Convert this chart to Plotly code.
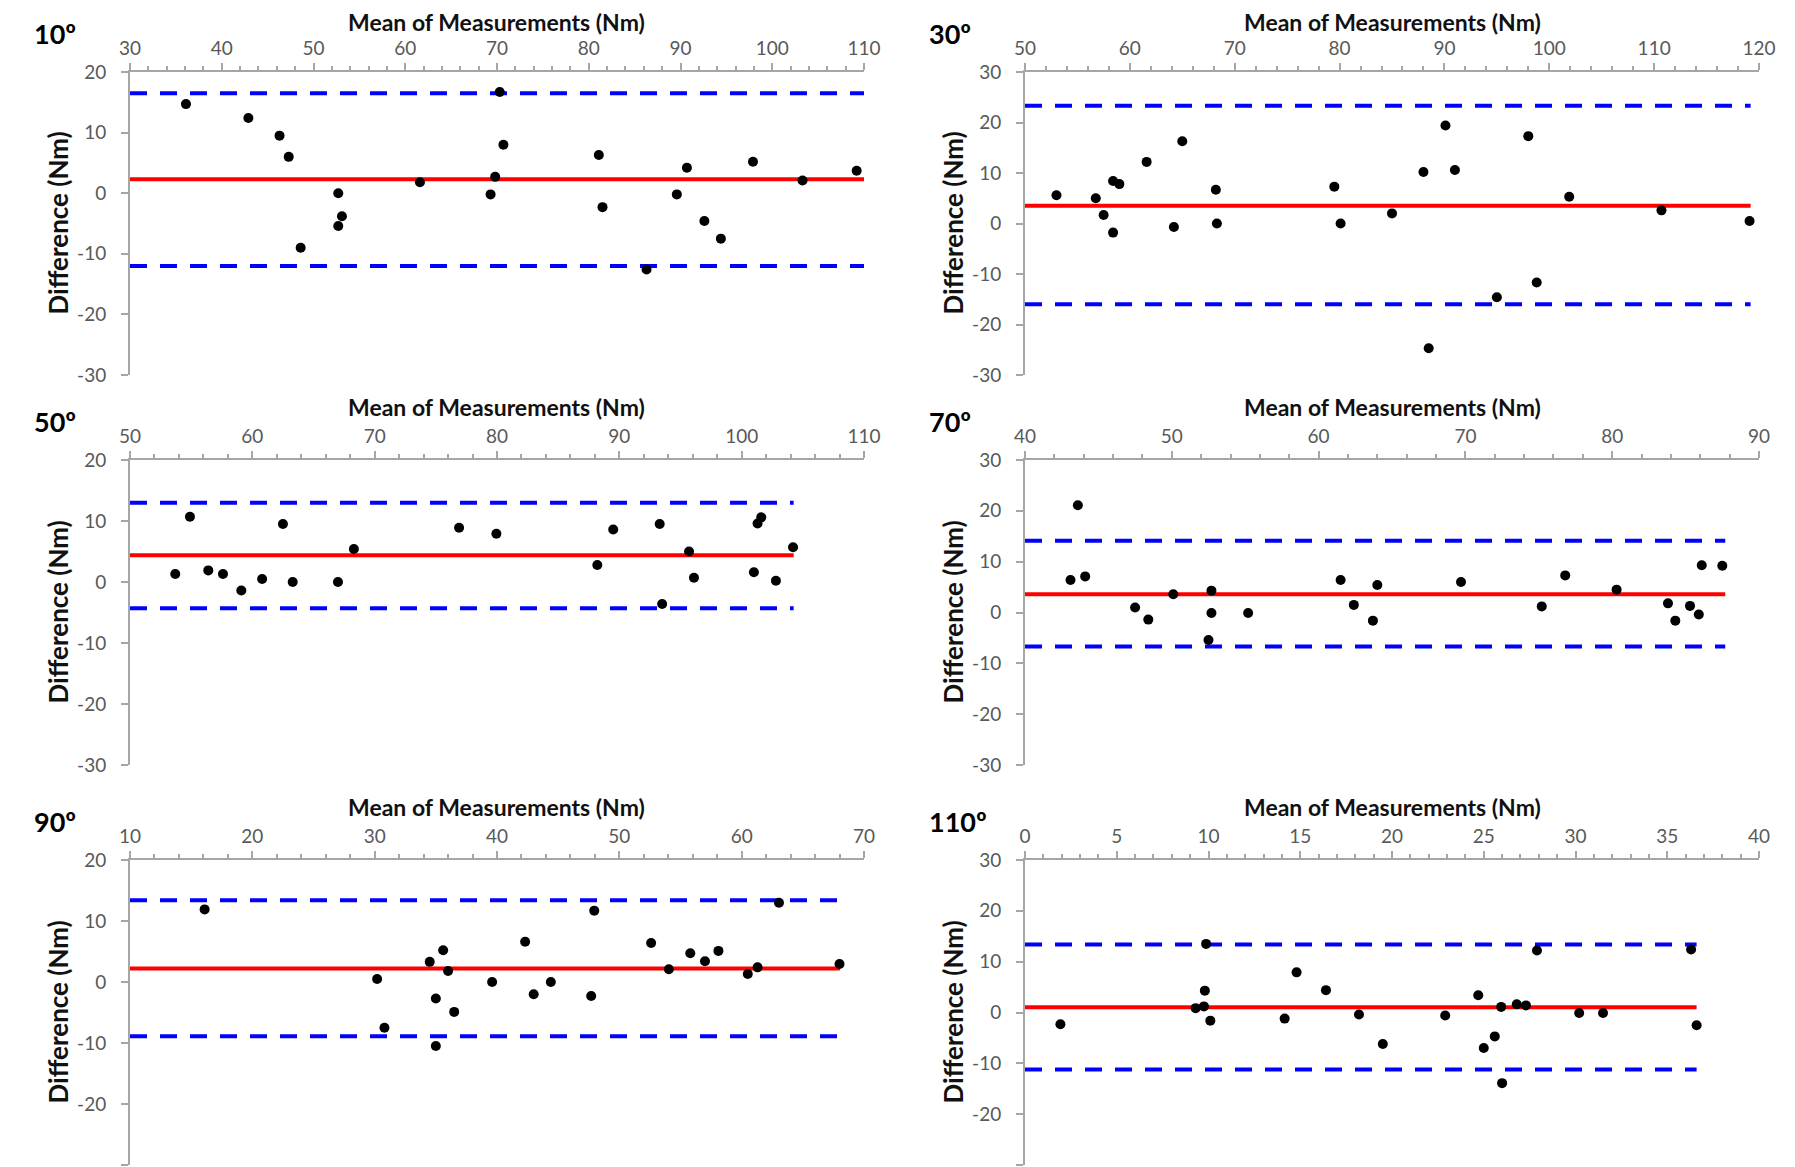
import plotly.graph_objects as go

# ---------------- data ----------------
panel_labels = ["10º", "30º", "50º", "70º", "90º", "110º"]

x10 = [36.1, 42.9, 46.3, 47.3, 48.6, 52.7, 52.7, 53.1, 61.6, 69.3, 69.8, 70.3, 70.7,
       81.1, 81.5, 86.3, 89.6, 90.7, 92.6, 94.4, 97.9, 103.3, 109.2]
y10 = [14.7, 12.4, 9.5, 6.0, -9.0, 0.0, -5.4, -3.8, 1.8, -0.2, 2.7, 16.7, 8.0,
       6.3, -2.3, -12.6, -0.2, 4.2, -4.6, -7.5, 5.2, 2.1, 3.7]

x30 = [53.0, 56.75, 57.5, 58.4, 58.4, 59.0, 61.6, 64.2, 65.0, 68.2, 68.3, 79.5, 80.1,
       85.0, 88.0, 88.5, 90.1, 91.0, 95.0, 98.0, 98.8, 101.9, 110.7, 119.1]
y30 = [5.6, 5.0, 1.7, 8.4, -1.8, 7.8, 12.2, -0.7, 16.3, 6.7, 0.0, 7.3, 0.0,
       2.0, 10.2, -24.7, 19.4, 10.6, -14.6, 17.3, -11.7, 5.3, 2.6, 0.5]

x50 = [53.7, 54.9, 56.4, 57.6, 59.1, 60.8, 62.5, 63.3, 67.0, 68.3, 76.9, 79.95,
       88.2, 89.5, 93.3, 93.5, 95.7, 96.1, 101.0, 101.3, 101.6, 102.8, 104.2]
y50 = [1.3, 10.7, 1.9, 1.3, -1.4, 0.5, 9.5, 0.0, 0.0, 5.4, 8.9, 7.9,
       2.8, 8.6, 9.5, -3.6, 5.0, 0.7, 1.6, 9.6, 10.6, 0.2, 5.7]

x70 = [43.1, 43.6, 44.1, 47.5, 48.4, 50.1, 52.7, 52.7, 52.5, 55.2, 61.5, 62.4,
       63.7, 64.0, 69.7, 75.2, 76.8, 80.3, 83.8, 84.3, 85.3, 85.9, 86.1, 87.5]
y70 = [6.4, 21.1, 7.1, 1.0, -1.4, 3.6, 4.3, -0.1, -5.4, -0.1, 6.4, 1.5,
       -1.6, 5.4, 6.0, 1.2, 7.3, 4.5, 1.8, -1.6, 1.3, -0.4, 9.3, 9.2]

x90 = [16.1, 30.2, 30.8, 34.5, 35.0, 35.0, 35.6, 36.0, 36.5, 39.6, 42.3, 43.0,
       44.4, 47.7, 47.95, 52.6, 54.05, 55.8, 57.0, 58.1, 60.5, 61.3, 63.05, 68.0]
y90 = [11.9, 0.5, -7.5, 3.3, -2.7, -10.5, 5.2, 1.8, -4.9, 0.0, 6.6, -2.0,
       0.0, -2.3, 11.7, 6.4, 2.1, 4.7, 3.4, 5.1, 1.3, 2.4, 13.0, 2.95]

x110 = [1.93, 9.3, 9.75, 9.8, 9.87, 10.1, 14.15, 14.8, 16.4, 18.2, 19.5, 22.9,
        24.7, 25.0, 25.6, 25.95, 26.0, 26.8, 27.3, 27.9, 30.2, 31.5, 36.3, 36.6]
y110 = [-2.3, 0.86, 1.2, 4.3, 13.5, -1.6, -1.2, 7.9, 4.4, -0.4, -6.2, -0.6,
        3.4, -7.0, -4.7, 1.1, -13.9, 1.6, 1.4, 12.2, -0.1, -0.1, 12.4, -2.5]

xs = [x10, x30, x50, x70, x90, x110]
ys = [y10, y30, y50, y70, y90, y110]

mean_bias = [2.3, 3.5, 4.4, 3.6, 2.2, 1.05]
loa_upper = [16.5, 23.3, 13.0, 14.1, 13.4, 13.4]
loa_lower = [-12.0, -16.0, -4.3, -6.7, -8.9, -11.2]
line_end = [110.0, 119.2, 104.25, 87.7, 68.05, 36.6]

x_ranges = [[30, 110], [50, 120], [50, 110], [40, 90], [10, 70], [0, 40]]
x_dticks = [10, 10, 10, 10, 10, 5]
x_minor = [2, 2, 2, 2, 2, 1]
y_ranges = [[-30, 20], [-30, 30], [-30, 20], [-30, 30], [-30, 20], [-30, 30]]
y_tickvals_short = [-30, -20, -10, 0, 10, 20]
y_tickvals_tall = [-30, -20, -10, 0, 10, 20, 30]

x_title = "Mean of Measurements (Nm)"
y_title = "Difference (Nm)"

# ---------------- layout geometry (pixels) ----------------
W, H = 1795, 1167
col_px = [(122, 856), (1017, 1751)]
row_px = [(64, 367), (452, 757), (852, 1157)]
title_offset = [50, 53, 53]

def px_x(v):
    return v / W

def px_y(v):
    return 1 - v / H

AX_GRAY = "#a6a6a6"
TICK_FONT = dict(family="Lato, Open Sans, sans-serif", size=19, color="#595959")
TITLE_FAMILY = "Lato, Open Sans, sans-serif"

fig = go.Figure()
annotations = []

for i in range(6):
    r, c = divmod(i, 2)
    n = i + 1
    xa = "x" if n == 1 else f"x{n}"
    ya = "y" if n == 1 else f"y{n}"
    x0 = x_ranges[i][0]
    x1 = line_end[i]

    for lv in (loa_upper[i], loa_lower[i]):
        fig.add_trace(go.Scatter(
            x=[x0, x1], y=[lv, lv], mode="lines",
            line=dict(color="#0000ff", width=4, dash="17px,13px"),
            xaxis=xa, yaxis=ya, showlegend=False, hoverinfo="skip"))
    fig.add_trace(go.Scatter(
        x=[x0, x1], y=[mean_bias[i], mean_bias[i]], mode="lines",
        line=dict(color="#ff0000", width=4),
        xaxis=xa, yaxis=ya, showlegend=False, hoverinfo="skip"))
    fig.add_trace(go.Scatter(
        x=xs[i], y=ys[i], mode="markers",
        marker=dict(color="black", size=10, line=dict(width=0)),
        xaxis=xa, yaxis=ya, showlegend=False))

    yt = y_tickvals_short if y_ranges[i][1] == 20 else y_tickvals_tall
    cx0, cx1 = col_px[c]
    ry0, ry1 = row_px[r]
    xkey = "xaxis" if n == 1 else f"xaxis{n}"
    ykey = "yaxis" if n == 1 else f"yaxis{n}"
    fig.update_layout(**{
        xkey: dict(
            domain=[px_x(cx0), px_x(cx1)], anchor=ya, side="top",
            range=x_ranges[i], dtick=x_dticks[i], tick0=0,
            showline=True, linecolor=AX_GRAY, linewidth=2,
            ticks="outside", ticklen=7, tickwidth=1.5, tickcolor=AX_GRAY,
            minor=dict(ticks="outside", ticklen=4, tickwidth=1.5,
                       tickcolor=AX_GRAY, dtick=x_minor[i]),
            showgrid=False, zeroline=False, automargin=False,
            tickfont=TICK_FONT, ticklabelstandoff=0, fixedrange=True),
        ykey: dict(
            domain=[px_y(ry1), px_y(ry0)], anchor=xa,
            range=y_ranges[i], tickvals=yt, ticktext=[str(v) for v in yt],
            showline=True, linecolor=AX_GRAY, linewidth=2,
            ticks="outside", ticklen=7, tickwidth=1.5, tickcolor=AX_GRAY,
            showgrid=False, zeroline=False, automargin=False,
            tickfont=TICK_FONT, ticklabelstandoff=11, fixedrange=True),
    })

    # panel label
    annotations.append(dict(
        text=f"<b>{panel_labels[i]}</b>", xref="paper", yref="paper",
        x=px_x(24 if c == 0 else 919), y=px_y(ry0 - 39),
        xanchor="left", yanchor="middle", showarrow=False,
        font=dict(family=TITLE_FAMILY, size=27, color="black")))
    # x-axis title
    annotations.append(dict(
        text=f"<b>{x_title}</b>", xref="paper", yref="paper",
        x=px_x((cx0 + cx1) / 2), y=px_y(ry0 - title_offset[r]), borderpad=0,
        xanchor="center", yanchor="middle", showarrow=False,
        font=dict(family=TITLE_FAMILY, size=23, color="#111111")))
    # y-axis title
    annotations.append(dict(
        text=f"<b>{y_title}</b>", xref="paper", yref="paper",
        x=px_x(cx0 - 73), y=px_y((ry0 + ry1) / 2), textangle=-90,
        xanchor="center", yanchor="middle", showarrow=False,
        font=dict(family=TITLE_FAMILY, size=26, color="#111111")))

fig.update_layout(
    template="none",
    width=W, height=H,
    margin=dict(l=0, r=0, t=0, b=0),
    paper_bgcolor="white", plot_bgcolor="white",
    showlegend=False,
    annotations=annotations,
)

fig.write_html("out.html", config={"displayModeBar": False, "responsive": False})
